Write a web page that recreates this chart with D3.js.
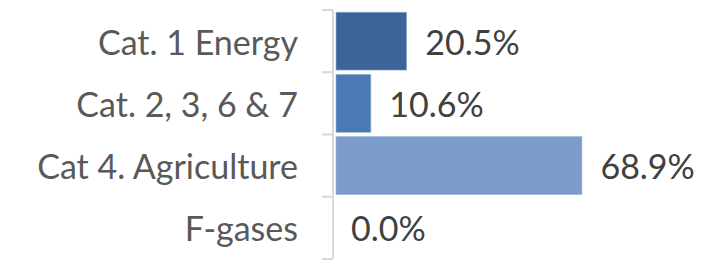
<!DOCTYPE html>
<meta charset="utf-8">
<style>
body { margin: 0; background: #fff; }
.cat { fill: #595959; font-family: Lato, sans-serif; font-size: 34px; }
.val { fill: #404040; font-family: Lato, sans-serif; font-size: 34px; }
</style>
<body>
<script src="https://cdn.jsdelivr.net/npm/d3@7"></script>
<script>

// data
var categories = ["Cat. 1 Energy", "Cat. 2, 3, 6 & 7", "Cat 4. Agriculture", "F-gases"];
var shares = [20.5, 10.6, 68.9, 0.0];
var valueLabels = ["20.5%", "10.6%", "68.9%", "0.0%"];
var barColors = ["#3c6498", "#4a7ab5", "#7b9bcb", "#7b9bcb"];

var width = 718, height = 264;

var svg = d3.select("body").append("svg")
    .attr("width", width)
    .attr("height", height);

// scales
var y = d3.scaleBand()
    .domain(categories)
    .range([10, 259])
    .paddingInner(0.07)
    .paddingOuter(0.035);

var x = d3.scaleLinear()
    .domain([0, 80])
    .range([333, 333 + 80 * 3.62]);

// bars
svg.selectAll(".bar")
    .data(shares)
  .enter().append("rect")
    .attr("class", "bar")
    .attr("x", x(0) + 3)
    .attr("y", function(d, i) { return y(categories[i]); })
    .attr("width", function(d) { return Math.max(0, x(d) - x(0) - 3.5); })
    .attr("height", y.bandwidth())
    .attr("fill", function(d, i) { return barColors[i]; })
    .attr("stroke", "#9bb3d6")
    .attr("stroke-width", function(d) { return d > 0 ? 0.6 : 0; });

// y axis (no labels, drawn separately)
var axis = svg.append("g")
    .attr("transform", "translate(" + x(0) + ",0)")
    .call(d3.axisLeft(y.copy().paddingInner(0).paddingOuter(0))
        .tickSize(0).tickFormat(""));
axis.select(".domain").remove();

// ticks at band boundaries
var bounds = d3.range(categories.length + 1).map(function(i) {
  return 10 + i * (249 / categories.length);
});
svg.append("path")
    .attr("d", "M" + x(0) + "," + bounds[0] + "V" + bounds[bounds.length - 1])
    .attr("stroke", "#d9d9d9")
    .attr("stroke-width", 2)
    .attr("fill", "none");
svg.selectAll(".tick-line")
    .data(bounds)
  .enter().append("line")
    .attr("class", "tick-line")
    .attr("x1", x(0) - 11)
    .attr("x2", x(0))
    .attr("y1", function(d) { return d; })
    .attr("y2", function(d) { return d; })
    .attr("stroke", "#d9d9d9")
    .attr("stroke-width", 2);

// category labels
svg.selectAll(".cat")
    .data(categories)
  .enter().append("text")
    .attr("class", "cat")
    .attr("x", 298)
    .attr("y", function(d) { return y(d) + y.bandwidth() / 2 + 13.5; })
    .attr("text-anchor", "end")
    .text(function(d) { return d; });

// value labels
svg.selectAll(".val")
    .data(shares)
  .enter().append("text")
    .attr("class", "val")
    .attr("x", function(d) { return x(d) + 18; })
    .attr("y", function(d, i) { return y(categories[i]) + y.bandwidth() / 2 + 13.5; })
    .text(function(d, i) { return valueLabels[i]; });

</script>
</body>
